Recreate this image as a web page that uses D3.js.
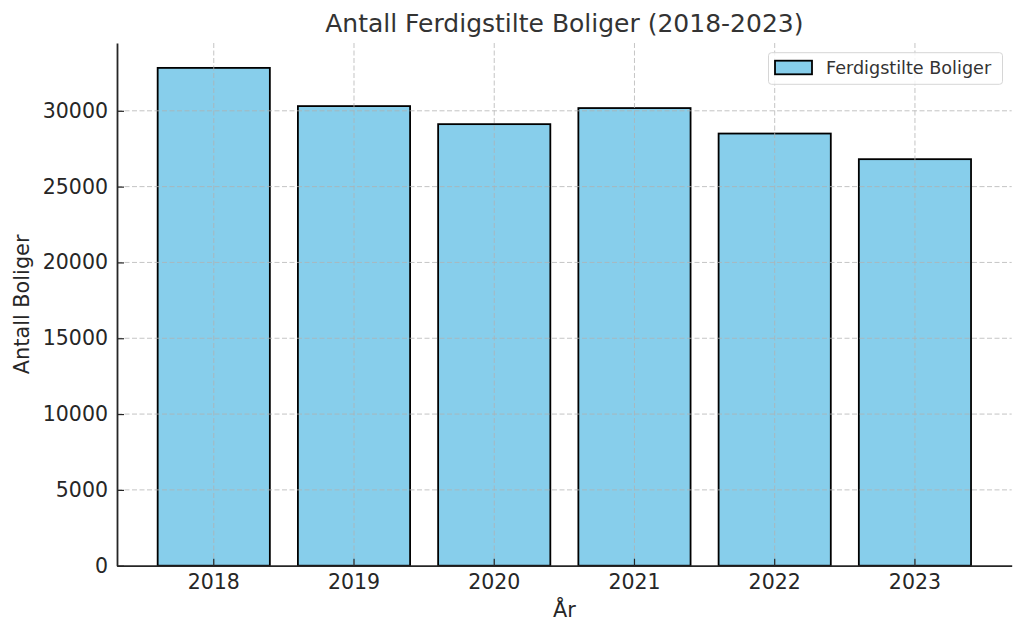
<!DOCTYPE html>
<html>
<head>
<meta charset="utf-8">
<script src="https://cdn.jsdelivr.net/npm/d3@7"></script>
<style>
  body { margin: 0; background: #fff; }
  text { font-family: "DejaVu Sans", sans-serif; }
</style>
</head>
<body>
<svg id="chart" width="1024" height="635"></svg>
<script>
// data
var years = ['2018', '2019', '2020', '2021', '2022', '2023'];
var boliger = [32830, 30310, 29120, 30180, 28500, 26810];
var yTicks = [0, 5000, 10000, 15000, 20000, 25000, 30000];

var svg = d3.select('#chart');
var plotLeft = 117, plotRight = 1011.7, plotTop = 43, plotBottom = 565.7;

var x = d3.scaleBand()
    .domain(years)
    .range([plotLeft, plotRight])
    .paddingInner(0.2)
    .paddingOuter(0.29);

var y = d3.scaleLinear()
    .domain([0, d3.max(boliger) * 1.05])
    .range([plotBottom, plotTop]);

var rows = years.map(function (yr, i) { return { year: yr, value: boliger[i] }; });

// bars
svg.append('g').selectAll('rect')
    .data(rows)
    .enter().append('rect')
    .attr('x', function (d) { return x(d.year); })
    .attr('y', function (d) { return y(d.value); })
    .attr('width', x.bandwidth())
    .attr('height', function (d) { return plotBottom - y(d.value); })
    .attr('fill', '#87ceeb')
    .attr('stroke', '#000')
    .attr('stroke-width', 1.8);

// grid, drawn over the bars like the original
var grid = svg.append('g')
    .attr('stroke', '#b0b0b0')
    .attr('stroke-opacity', 0.75)
    .attr('stroke-width', 1)
    .attr('stroke-dasharray', '5,2.5');
grid.selectAll('line.h')
    .data(yTicks.slice(1))
    .enter().append('line')
    .attr('x1', plotLeft).attr('x2', plotRight)
    .attr('y1', function (d) { return y(d); })
    .attr('y2', function (d) { return y(d); });
grid.selectAll('line.v')
    .data(years)
    .enter().append('line')
    .attr('x1', function (d) { return x(d) + x.bandwidth() / 2; })
    .attr('x2', function (d) { return x(d) + x.bandwidth() / 2; })
    .attr('y1', plotTop).attr('y2', plotBottom);

// axes, ticks pointing inward
var xAxis = svg.append('g')
    .attr('transform', 'translate(0,' + plotBottom + ')')
    .call(d3.axisBottom(x).tickSizeInner(-7).tickSizeOuter(0));
var yAxis = svg.append('g')
    .attr('transform', 'translate(' + plotLeft + ',0)')
    .call(d3.axisLeft(y).tickValues(yTicks).tickFormat(d3.format('d'))
        .tickSizeInner(-7).tickSizeOuter(0));

[xAxis, yAxis].forEach(function (a) {
    a.select('.domain').attr('stroke', '#262626').attr('stroke-width', 1.8);
    a.selectAll('.tick line').attr('stroke', '#262626').attr('stroke-width', 1.2);
    a.selectAll('.tick text')
        .attr('fill', '#262626')
        .style('font-family', '"DejaVu Sans", sans-serif')
        .style('font-size', '20.5px');
});
xAxis.selectAll('.tick text').attr('y', 9).attr('dy', '0.71em');
yAxis.selectAll('.tick text').attr('x', -9);

// titles
svg.append('text')
    .attr('x', (plotLeft + plotRight) / 2)
    .attr('y', 32)
    .attr('text-anchor', 'middle')
    .attr('fill', '#333')
    .style('font-size', '25px')
    .text('Antall Ferdigstilte Boliger (2018-2023)');

svg.append('text')
    .attr('x', (plotLeft + plotRight) / 2)
    .attr('y', 617)
    .attr('text-anchor', 'middle')
    .attr('fill', '#262626')
    .style('font-size', '20.8px')
    .text('År');

svg.append('text')
    .attr('transform', 'translate(29,' + (plotTop + plotBottom) / 2 + ') rotate(-90)')
    .attr('text-anchor', 'middle')
    .attr('fill', '#262626')
    .style('font-size', '20.8px')
    .text('Antall Boliger');

// legend
var legend = svg.append('g');
legend.append('rect')
    .attr('x', 768.5).attr('y', 52.7)
    .attr('width', 234).attr('height', 31.6)
    .attr('rx', 3)
    .attr('fill', '#fff').attr('fill-opacity', 0.8)
    .attr('stroke', '#d6d6d6');
legend.append('rect')
    .attr('x', 775).attr('y', 60.7)
    .attr('width', 37).attr('height', 13.6)
    .attr('fill', '#87ceeb')
    .attr('stroke', '#000')
    .attr('stroke-width', 1.8);
legend.append('text')
    .attr('x', 826).attr('y', 74)
    .attr('fill', '#333')
    .style('font-size', '17.6px')
    .text('Ferdigstilte Boliger');
</script>
</body>
</html>
